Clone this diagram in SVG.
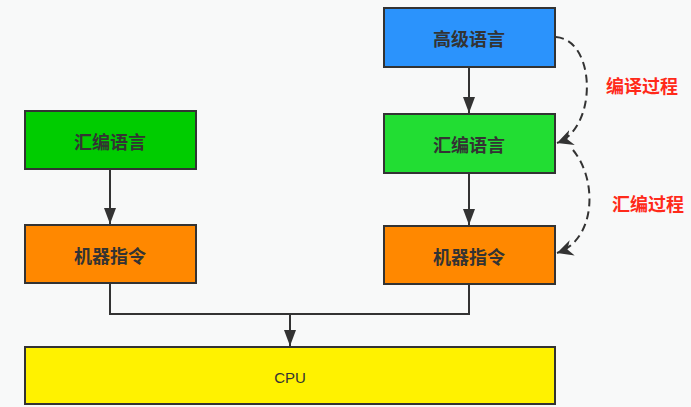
<svg xmlns="http://www.w3.org/2000/svg" width="691" height="407" viewBox="0 0 691 407">
<defs>
<style>
.box{stroke:#333;stroke-width:2}
.lbl{font-family:"Noto Sans CJK SC","Liberation Sans",sans-serif;font-size:18px;font-weight:bold;fill:#333;text-anchor:middle;dominant-baseline:central}
.red{font-family:"Noto Sans CJK SC","Liberation Sans",sans-serif;font-size:18px;font-weight:bold;fill:#ff2a1a;text-anchor:middle;dominant-baseline:central}
.cpu{font-family:"Liberation Sans","Noto Sans CJK SC",sans-serif;font-size:15px;fill:#333;text-anchor:middle;dominant-baseline:central}
.line{fill:none;stroke:#333;stroke-width:2}
.dash{fill:none;stroke:#333;stroke-width:2;stroke-dasharray:8 5}
</style>
<marker id="arr" viewBox="0 0 16 12" refX="16" refY="6" markerWidth="8" markerHeight="6" markerUnits="strokeWidth" orient="auto">
<path d="M0,0 L16,6 L0,12 z" fill="#333"/>
</marker>
<marker id="darr" viewBox="0 0 16 16" refX="16" refY="8" markerWidth="8" markerHeight="8" markerUnits="strokeWidth" orient="auto">
<path d="M0,0 L16,8 L0,16 L5,8 z" fill="#333"/>
</marker>
</defs>
<rect width="691" height="407" fill="#f8f9f9"/>
<g id="connectors">
<path class="line" d="M110,169 V224" marker-end="url(#arr)"/>
<path class="line" d="M469,67 V113" marker-end="url(#arr)"/>
<path class="line" d="M469,173 V225" marker-end="url(#arr)"/>
<path class="line" d="M110,283 V314 H469 V284"/>
<path class="line" d="M290,314 V346" marker-end="url(#arr)"/>
<path class="dash" d="M556,37 C596,40 598,128 557,143" marker-end="url(#darr)"/>
<path class="dash" d="M573,150 C598,180 596,240 557,253" marker-end="url(#darr)"/>
</g>
<g id="node-asm-left">
<rect class="box" x="25" y="111" width="171" height="58" fill="#00cc00"/>
<text class="lbl" x="110" y="141">汇编语言</text>
</g>
<g id="node-machine-left">
<rect class="box" x="25" y="225" width="171" height="58" fill="#ff8800"/>
<text class="lbl" x="110" y="255">机器指令</text>
</g>
<g id="node-high">
<rect class="box" x="384" y="8" width="171" height="59" fill="#2b93fc"/>
<text class="lbl" x="469" y="38">高级语言</text>
</g>
<g id="node-asm-right">
<rect class="box" x="384" y="114" width="171" height="59" fill="#22dd33"/>
<text class="lbl" x="469" y="144">汇编语言</text>
</g>
<g id="node-machine-right">
<rect class="box" x="384" y="226" width="171" height="58" fill="#ff8800"/>
<text class="lbl" x="469" y="256">机器指令</text>
</g>
<g id="node-cpu">
<rect class="box" x="25" y="347" width="530" height="57" fill="#fff200"/>
<text class="cpu" x="290" y="377">CPU</text>
</g>
<g id="labels">
<text class="red" x="642" y="85">编译过程</text>
<text class="red" x="648" y="203">汇编过程</text>
</g>
</svg>
